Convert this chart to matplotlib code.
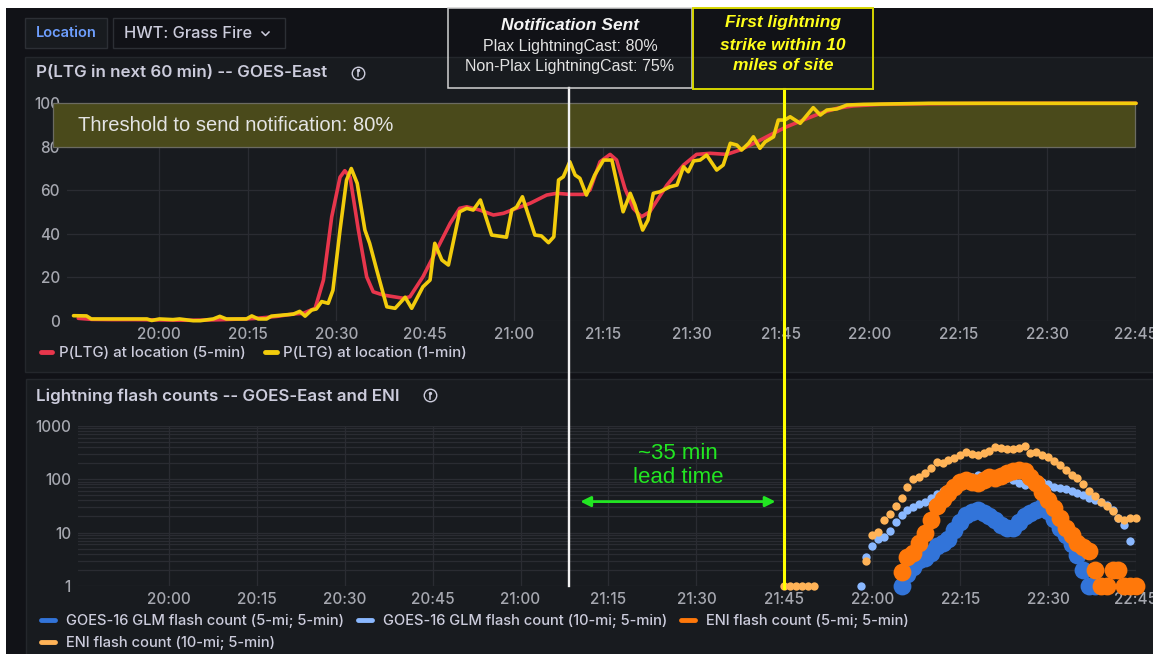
import matplotlib
matplotlib.use('Agg')
import matplotlib.pyplot as plt
from matplotlib.patches import Rectangle
from matplotlib.lines import Line2D
from matplotlib.ticker import FuncFormatter, LogLocator, NullFormatter
import matplotlib.transforms as mtransforms

plt.rcParams['font.family'] = ['Inter', 'DejaVu Sans']

# ---------------- data (minutes after 20:00) ----------------
tick_minutes = [0, 15, 30, 45, 60, 75, 90, 105, 120, 135, 150, 165]
pct_ticks = [0, 20, 40, 60, 80, 100]
count_ticks = [1, 10, 100, 1000]
count_labels = ['1', '10', '100', '1000']
threshold = 80

t_5min = [-13.6, -11.3, -8, -4, -1, 2, 5, 8, 11, 14, 16, 18.2, 20, 22.7, 24.4, 26.4, 27.8, 29.2,
          30.6, 31.4, 32.3, 33.7, 35.1, 36.2, 37.9, 41.3, 42.4, 44.6, 46.9, 49.2, 50.8, 52, 54.2,
          56.5, 58.2, 60.4, 62.7, 65.5, 67.2, 69.4, 71.7, 72.8, 74.5, 76.2, 77.3, 78.7, 80.1, 81.5,
          82.9, 85.8, 88.6, 90.8, 93.1, 95.9, 98.1, 101, 103.2, 106, 108.8, 111.7, 114.5, 117.3,
          121.8, 130, 140, 150, 165]
p_5min = [1.1, 0.6, 0.5, 0.5, 0.4, 0.3, 0.2, 0.3, 0.5, 0.8, 1.0, 1.5, 2.0, 3.1, 3.4, 5.7, 18.7, 47.8,
          66, 69, 66, 41.7, 20.2, 13.3, 11.8, 10.3, 11, 20.2, 32.5, 44.8, 51.7, 52.4, 50.9,
          48.6, 49.4, 51.7, 54, 57.8, 58.6, 58.1, 58.1, 60.1, 73.1, 76.5, 73.9, 60.9, 51.7, 47.8,
          50.1, 62.4, 71.6, 76.5, 77, 76.5, 78.5, 82.3, 85.4, 89.2, 92.3, 95.4, 97.7, 98.8,
          99.5, 99.8, 100, 100, 100]

t_1min = [-14.4, -12.2, -11.4, -6, -2, -1.2, 0.1, 2.4, 3.5, 5.8, 7, 9.2, 10.3, 11.4, 14.8, 15.7,
          16.8, 18.2, 19, 21, 22.7, 23.8, 24.7, 25.8, 26.6, 27.5, 28.6, 29.4, 30.6, 31.7, 32.5,
          33.5, 34.8, 35.6, 36.8, 38.5, 39.9, 41.6, 42.7, 44.6, 45.8, 46.6, 47.8, 48.9, 50.8, 52,
          53.1, 54.3, 56.2, 58.7, 59.6, 60.4, 61.4, 63.5, 64.6, 65.8, 66.7, 67.5, 68.3, 69.4,
          70.3, 71.1, 72.2, 73.6, 75.1, 76.5, 78.4, 79.6, 80.4, 81.7, 82.6, 83.5, 84.6, 86.3,
          87.5, 88.6, 89.4, 90.3, 91.4, 92.5, 94.2, 95.3, 96.5, 97.6, 98.4, 99.6, 100.4, 101.5,
          102.4, 103.8, 104.6, 105.7, 106.6, 108.3, 110.5, 111.7, 112.8, 114.5, 116.2, 119,
          130, 150, 165]
p_1min = [2.3, 2.2, 0.8, 0.8, 0.8, 0.1, 0.8, 0.5, 0.8, 0.0, 0.0, 0.8, 2.0, 0.8, 0.8, 2.2,
          0.8, 0.8, 2.1, 2.6, 3.0, 4.3, 2.1, 4.9, 5.4, 8.8, 8.0, 14, 41.7, 64.7, 70,
          63.2, 41.7, 35.6, 23.3, 6.4, 5.7, 10.8, 5.7, 15.6, 18.7, 35.6, 27.9, 25.6, 50.1, 51.7,
          50.9, 55.5, 39.4, 38.4, 50.9, 52.2, 57, 39.4, 39, 35.9, 38.6, 64.7, 66.2, 73.1,
          67, 65.5, 57.8, 67, 73.9, 73.9, 50.1, 58.6, 53.2, 41.7, 46.3, 58.6, 59.3, 61.6,
          62.4, 70.8, 68.5, 73.5, 73.9, 76.2, 69.3, 71.6, 81.6, 80.8, 78.5, 81.6, 84.6, 79.3,
          82.3, 84.6, 92.3, 92.3, 93.8, 90.8, 98, 94.6, 96.9, 97.4, 99.2, 99.5,
          100, 100, 100]

t_glm5 = [125, 126, 127, 128, 129, 130, 131, 132, 133, 134, 135, 136, 137, 138, 139, 140, 141,
          142, 143, 144, 145, 146, 147, 148, 149, 150, 151, 152, 153, 154, 155, 156, 157, 158]
n_glm5 = [1, 1.7, 2.3, 3.1, 3.4, 4.2, 5.5, 6.5, 7.5, 11, 16, 21, 24, 26, 23, 20, 17.5,
          14, 12, 12, 16, 20, 23, 27, 30, 25, 18, 12, 9, 6, 3.8, 2, 1, 1]

t_glm10 = [118, 119, 120, 121, 122, 123, 124, 125, 126, 127, 128, 129, 130, 131, 132, 133, 134,
           135, 136, 137, 138, 139, 140, 141, 142, 143, 144, 145, 146, 147, 148, 149, 150, 151,
           152, 153, 154, 155, 156, 157, 158, 159, 160, 161, 162, 163, 164]
n_glm10 = [1, 3.5, 5.5, 7.5, 8.1, 10.5, 16, 21, 26, 30, 34, 38, 45, 53, 60, 68, 78,
           88, 100, 112, 119, 122, 120, 112, 106, 103, 98, 85, 77, 82, 86, 90, 80, 72,
           69, 64, 59, 55, 50, 45, 41, 38, 33, 26, 19, 14, 7]

t_eni5 = [125, 126, 127, 128, 129, 130, 131, 132, 133, 134, 135, 136, 137, 138, 139, 140, 141,
          142, 143, 144, 145, 146, 147, 148, 149, 150, 151, 152, 153, 154, 155, 156, 157, 158,
          159, 160, 161, 162, 163, 164, 165]
n_eni5 = [1.85, 3.5, 4.1, 6.5, 10, 17, 32, 42, 55, 72, 90, 95, 88, 84, 95, 108, 104,
          115, 128, 140, 147, 140, 110, 85, 58, 40, 29, 19, 12, 9, 6.3, 5.4, 4.5, 2,
          1, 1, 2, 2, 1, 1, 1]

t_eni10 = [105, 106, 107, 108, 109, 110,
           119, 120, 121, 122, 123, 124, 125, 126, 127, 128, 129, 130, 131, 132, 133, 134, 135,
           136, 137, 138, 139, 140, 141, 142, 143, 144, 145, 146, 147, 148, 149, 150, 151, 152,
           153, 154, 155, 156, 157, 158, 159, 160, 161, 162, 163, 164, 165]
n_eni10 = [1, 1, 1, 1, 1, 1,
           2.9, 9, 10.4, 17.5, 22, 32, 45, 70, 100, 112, 130, 165, 205, 200, 225, 245, 280,
           320, 295, 285, 305, 330, 400, 385, 360, 365, 380, 410, 305, 320, 285, 255, 215, 180,
           150, 122, 103, 80, 60, 48, 38, 31, 25, 19, 17, 18.5, 18.5]

notify_time = 68.3   # notification sent
strike_time = 105.0  # first lightning strike within 10 miles

# ---------------- styling ----------------
W, H = 1153, 654
BG = '#111217'
PANEL = '#181b1f'
PBORDER = '#24272c'
TEXT = '#ccccdc'
TICK = '#a6a8b0'
GRID = '#2a2c32'
RED = '#e8364c'
YEL = '#f2cc0c'
BLUE = '#3274d9'
LBLUE = '#8ab8ff'
ORANGE = '#ff780a'
LORANGE = '#ffb357'
GREEN = '#22e622'
LIB = ['Liberation Sans', 'DejaVu Sans']

fig = plt.figure(figsize=(W / 100, H / 100), dpi=100, facecolor='white')


def box(x0, y0, x1, y1):
    return [x0 / W, 1 - y1 / H, (x1 - x0) / W, (y1 - y0) / H]


def fx(x):
    return x / W


def fy(y):
    return 1 - y / H


def frect(x0, y0, x1, y1, **kw):
    r = Rectangle((fx(x0), fy(y1)), (x1 - x0) / W, (y1 - y0) / H,
                  transform=fig.transFigure, **kw)
    fig.add_artist(r)
    return r


# background and panels
frect(6, 8, W + 5, H + 5, facecolor=BG, edgecolor='none', zorder=-10)
frect(25, 57, W + 10, 372, facecolor=PANEL, edgecolor=PBORDER, lw=1, zorder=-9)
frect(26, 379, W + 10, H + 10, facecolor=PANEL, edgecolor=PBORDER, lw=1, zorder=-9)

# top controls
frect(25, 18, 107, 48, facecolor=PANEL, edgecolor='#2c2f35', lw=1, zorder=-8)
frect(113, 18, 285, 48, facecolor=BG, edgecolor='#2c2f35', lw=1, zorder=-8)
fig.text(fx(66), fy(33), 'Location', color='#6e9fff', fontsize=10.5, fontweight='semibold',
         ha='center', va='center')
fig.text(fx(124), fy(33), 'HWT: Grass Fire', color=TEXT, fontsize=11.8, fontweight='medium',
         ha='left', va='center')
fig.add_artist(Line2D([fx(262), fx(265.5), fx(269)], [fy(32), fy(35.5), fy(32)],
                      transform=fig.transFigure, color=TEXT, lw=1.1))

# panel titles + info icons
fig.text(fx(36), fy(72.5), 'P(LTG in next 60 min) -- GOES-East', color=TEXT, fontsize=12.2,
         fontweight='semibold', ha='left', va='center')
fig.text(fx(36), fy(396), 'Lightning flash counts -- GOES-East and ENI', color=TEXT,
         fontsize=12.2, fontweight='semibold', ha='left', va='center')
for cx, cy in [(358, 72.5), (430, 395.5)]:
    fig.add_artist(Line2D([fx(cx)], [fy(cy)], transform=fig.transFigure, marker='o',
                          markersize=9, markerfacecolor='none', markeredgecolor=TEXT,
                          markeredgewidth=1.0, linestyle='none'))
    fig.add_artist(Line2D([fx(cx), fx(cx)], [fy(cy - 0.5), fy(cy + 3)],
                          transform=fig.transFigure, color=TEXT, lw=1.1))
    fig.add_artist(Line2D([fx(cx)], [fy(cy - 2.8)], transform=fig.transFigure, marker='o',
                          markersize=1.4, color=TEXT, linestyle='none'))


def fmt_time(t, pos):
    total = 20 * 60 + int(round(t))
    return f"{total // 60}:{total % 60:02d}"


def style_axes(ax):
    ax.set_facecolor('none')
    for s in ax.spines.values():
        s.set_visible(False)
    ax.set_xlim(-15.5, 165)
    ax.set_xticks(tick_minutes)
    ax.xaxis.set_major_formatter(FuncFormatter(fmt_time))
    ax.tick_params(which='both', length=0, labelsize=11, labelcolor=TICK)
    ax.tick_params(axis='x', pad=4.5)
    ax.tick_params(axis='y', pad=5)
    for lab in ax.get_xticklabels() + ax.get_yticklabels():
        lab.set_fontweight('medium')
    ax.set_axisbelow(True)


# ---------------- top panel ----------------
ax1 = fig.add_axes(box(67, 103.3, 1136, 320.7))
ax1.set_ylim(0, 100)
ax1.set_yticks(pct_ticks)
style_axes(ax1)
ax1.grid(True, color=GRID, lw=0.9)

band_tr = mtransforms.blended_transform_factory(ax1.transAxes, ax1.transData)
ax1.add_patch(Rectangle((-0.0131, threshold), 1.0122, 100 - threshold, transform=band_tr,
                        facecolor='#4a4a1b', edgecolor='#6b6b62', lw=0.9, clip_on=False,
                        zorder=1))
ax1.text(0.0103, (100 + threshold) / 2, 'Threshold to send notification: 80%',
         transform=band_tr, family=LIB, fontsize=14.5,
         color='#e4e4e4', ha='left', va='center', zorder=4)

ax1.plot(t_5min, p_5min, color=RED, lw=2.6, zorder=3, clip_on=False, solid_joinstyle='round',
         solid_capstyle='round', label='P(LTG) at location (5-min)')
ax1.plot(t_1min, p_1min, color=YEL, lw=2.6, zorder=3.5, clip_on=False, solid_joinstyle='round',
         solid_capstyle='round', label='P(LTG) at location (1-min)')

h1 = [Line2D([], [], color=RED, lw=3.5, solid_capstyle='round'),
      Line2D([], [], color=YEL, lw=3.5, solid_capstyle='round')]
leg1 = fig.legend(h1, ['P(LTG) at location (5-min)', 'P(LTG) at location (1-min)'],
                  loc='center left', bbox_to_anchor=(fx(41), fy(353)), ncol=2, frameon=False,
                  fontsize=10.8, labelcolor=TEXT, handlelength=0.75, handletextpad=0.45,
                  columnspacing=1.3, borderpad=0, borderaxespad=0)
for txt in leg1.get_texts():
    txt.set_fontweight('medium')

# ---------------- bottom panel ----------------
ax2 = fig.add_axes(box(78, 425.7, 1136, 586))
ax2.set_yscale('log')
ax2.set_ylim(1, 1000)
ax2.set_yticks(count_ticks)
ax2.set_yticklabels(count_labels)
ax2.yaxis.set_minor_locator(LogLocator(base=10, subs=[2, 3, 4, 5, 6, 7, 8, 9]))
ax2.yaxis.set_minor_formatter(NullFormatter())
style_axes(ax2)
ax2.grid(True, which='both', axis='y', color=GRID, lw=0.9)
ax2.grid(True, which='major', axis='x', color=GRID, lw=0.9)

ax2.scatter(t_glm5, n_glm5, s=165, color=BLUE, lw=0, zorder=3, clip_on=False)
ax2.scatter(t_glm10, n_glm10, s=36, color=LBLUE, lw=0, zorder=3.2, clip_on=False)
ax2.scatter(t_eni5, n_eni5, s=165, color=ORANGE, lw=0, zorder=3.4, clip_on=False)
ax2.scatter(t_eni10, n_eni10, s=36, color=LORANGE, lw=0, zorder=3.6, clip_on=False)

h2 = [Line2D([], [], color=BLUE, lw=3.5, solid_capstyle='round'),
      Line2D([], [], color=LORANGE, lw=3.5, solid_capstyle='round'),
      Line2D([], [], color=LBLUE, lw=3.5, solid_capstyle='round'),
      Line2D([], [], color=ORANGE, lw=3.5, solid_capstyle='round')]
l2 = ['GOES-16 GLM flash count (5-mi; 5-min)', 'ENI flash count (10-mi; 5-min)',
      'GOES-16 GLM flash count (10-mi; 5-min)', 'ENI flash count (5-mi; 5-min)']
leg2 = fig.legend(h2, l2, loc='upper left', bbox_to_anchor=(fx(41), fy(614)), ncol=3,
                  frameon=False, fontsize=10.6, labelcolor=TEXT, handlelength=0.95,
                  handletextpad=0.75, columnspacing=0.95, labelspacing=0.53, borderpad=0,
                  borderaxespad=0)
for txt in leg2.get_texts():
    txt.set_fontweight('medium')

# lead-time annotation
ax2.annotate('', xy=(70.2, 38), xytext=(103.5, 38),
             arrowprops=dict(arrowstyle='<|-|>', color=GREEN, lw=2, mutation_scale=15,
                             shrinkA=0, shrinkB=0), annotation_clip=False, zorder=6)
ax2.text((70.2 + 103.5) / 2, 183, '~35 min\nlead time', color=GREEN, fontsize=16,
         family=LIB, ha='center', va='center', linespacing=1.18, zorder=6)

# ---------------- overlay event lines and boxes ----------------
inv = fig.transFigure.inverted()
xn = inv.transform(ax2.transData.transform((notify_time, 1)))[0]
xs = inv.transform(ax2.transData.transform((strike_time, 1)))[0]
fig.add_artist(Line2D([xn, xn], [fy(88), fy(586)], transform=fig.transFigure,
                      color='#f2f2f2', lw=1.7, zorder=7))
fig.add_artist(Line2D([xs, xs], [fy(89), fy(588)], transform=fig.transFigure,
                      color='#ffff00', lw=2.2, zorder=7))

frect(447.5, 8.3, 692.3, 87.7, facecolor='none', edgecolor='#d2d2d2', lw=1.1, zorder=7)
frect(693.3, 8.3, 873.3, 89.3, facecolor='none', edgecolor='#d6d600', lw=1.4, zorder=7)

fig.text(fx(570), fy(26), 'Notification Sent', color='#f4f4f4', fontsize=12.5,
         fontweight='bold', fontstyle='italic', family=LIB, ha='center', va='center', zorder=8)
fig.text(fx(570), fy(46), 'Plax LightningCast: 80%', color='#e2e2e2', fontsize=11.5,
         family=LIB, ha='center', va='center', zorder=8)
fig.text(fx(570), fy(66), 'Non-Plax LightningCast: 75%', color='#e2e2e2', fontsize=11.5,
         family=LIB, ha='center', va='center', zorder=8)
for yy, s in [(23, 'First lightning'), (45, 'strike within 10'), (66, 'miles of site')]:
    fig.text(fx(783), fy(yy), s, color='#ffff1a', fontsize=12.5, fontweight='bold',
             fontstyle='italic', family=LIB, ha='center', va='center', zorder=8)

fig.savefig('out.png', dpi=100, facecolor='white')
